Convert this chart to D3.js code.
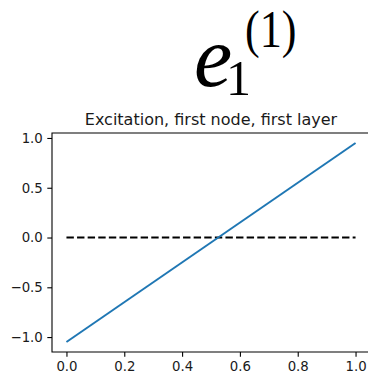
<!doctype html>
<html>
<head>
<meta charset="UTF-8">
<title>Excitation</title>
<script src="https://d3js.org/d3.v7.min.js"></script>
<style>
  body { margin: 0; background: #fff; }
  text { font-family: "DejaVu Sans", sans-serif; fill: #1a1a1a; }
</style>
</head>
<body>
<script>
// data
var xs = [0, 1];
var excitation = [-1.05, 0.95];
var zeroLine = [0, 0];
var xTicks = [0, 0.2, 0.4, 0.6, 0.8, 1.0];
var yTicks = [-1.0, -0.5, 0.0, 0.5, 1.0];
var title = "Excitation, first node, first layer";

var w = 368, h = 375;
var pLeft = 52, pRight = 370, pTop = 133, pBottom = 352;

var svg = d3.select("body").append("svg")
    .attr("width", w)
    .attr("height", h);

var x = d3.scaleLinear().domain([-0.05, 1.05]).range([pLeft, pRight]);
var y = d3.scaleLinear().domain([-1.15, 1.05]).range([pBottom, pTop]);

// big formula label e_1^(1)
var serif = "'Liberation Serif', serif";
svg.append("text").attr("x", 194).attr("y", 86)
    .style("font-family", serif).style("font-style", "italic").style("font-size", "86px")
    .style("fill", "#000").text("e");
svg.append("text").attr("x", 226).attr("y", 95)
    .style("font-family", serif).style("font-size", "50px")
    .style("fill", "#000").text("1");
svg.append("text").attr("transform", "translate(245,47) scale(0.85,1)")
    .style("font-family", serif).style("font-size", "52px")
    .style("fill", "#000").text("(1)");

// spines (top, left, bottom)
svg.append("path")
    .attr("d", "M" + pRight + "," + pTop + "H" + pLeft + "V" + pBottom + "H" + pRight)
    .attr("fill", "none")
    .attr("stroke", "#000")
    .attr("stroke-width", 1.1);

var xAxis = svg.append("g")
    .attr("transform", "translate(0," + pBottom + ")")
    .call(d3.axisBottom(x).tickValues(xTicks).tickFormat(d3.format(".1f")).tickSize(4.7).tickPadding(4.5));
var yAxis = svg.append("g")
    .attr("transform", "translate(" + pLeft + ",0)")
    .call(d3.axisLeft(y).tickValues(yTicks).tickFormat(function(d){ return d3.format(".1f")(d).replace("-", "\u2212"); }).tickSize(4.7).tickPadding(4.5));

[xAxis, yAxis].forEach(function(g){
    g.select(".domain").remove();
    g.selectAll("line").attr("stroke", "#000").attr("stroke-width", 1.1);
    g.selectAll("text").style("font-size", "13.3px").attr("fill", "#1a1a1a");
});

svg.append("text")
    .attr("x", (pLeft + pRight) / 2)
    .attr("y", 125)
    .attr("text-anchor", "middle")
    .style("font-size", "16px")
    .text(title);

var line = d3.line()
    .x(function(d, i){ return x(xs[i]); })
    .y(function(d){ return y(d); });

svg.append("path")
    .datum(zeroLine)
    .attr("d", line)
    .attr("fill", "none")
    .attr("stroke", "#000")
    .attr("stroke-width", 2)
    .attr("stroke-dasharray", "7.4,3.2");

svg.append("path")
    .datum(excitation)
    .attr("d", line)
    .attr("fill", "none")
    .attr("stroke", "#1f77b4")
    .attr("stroke-width", 2);
</script>
</body>
</html>
